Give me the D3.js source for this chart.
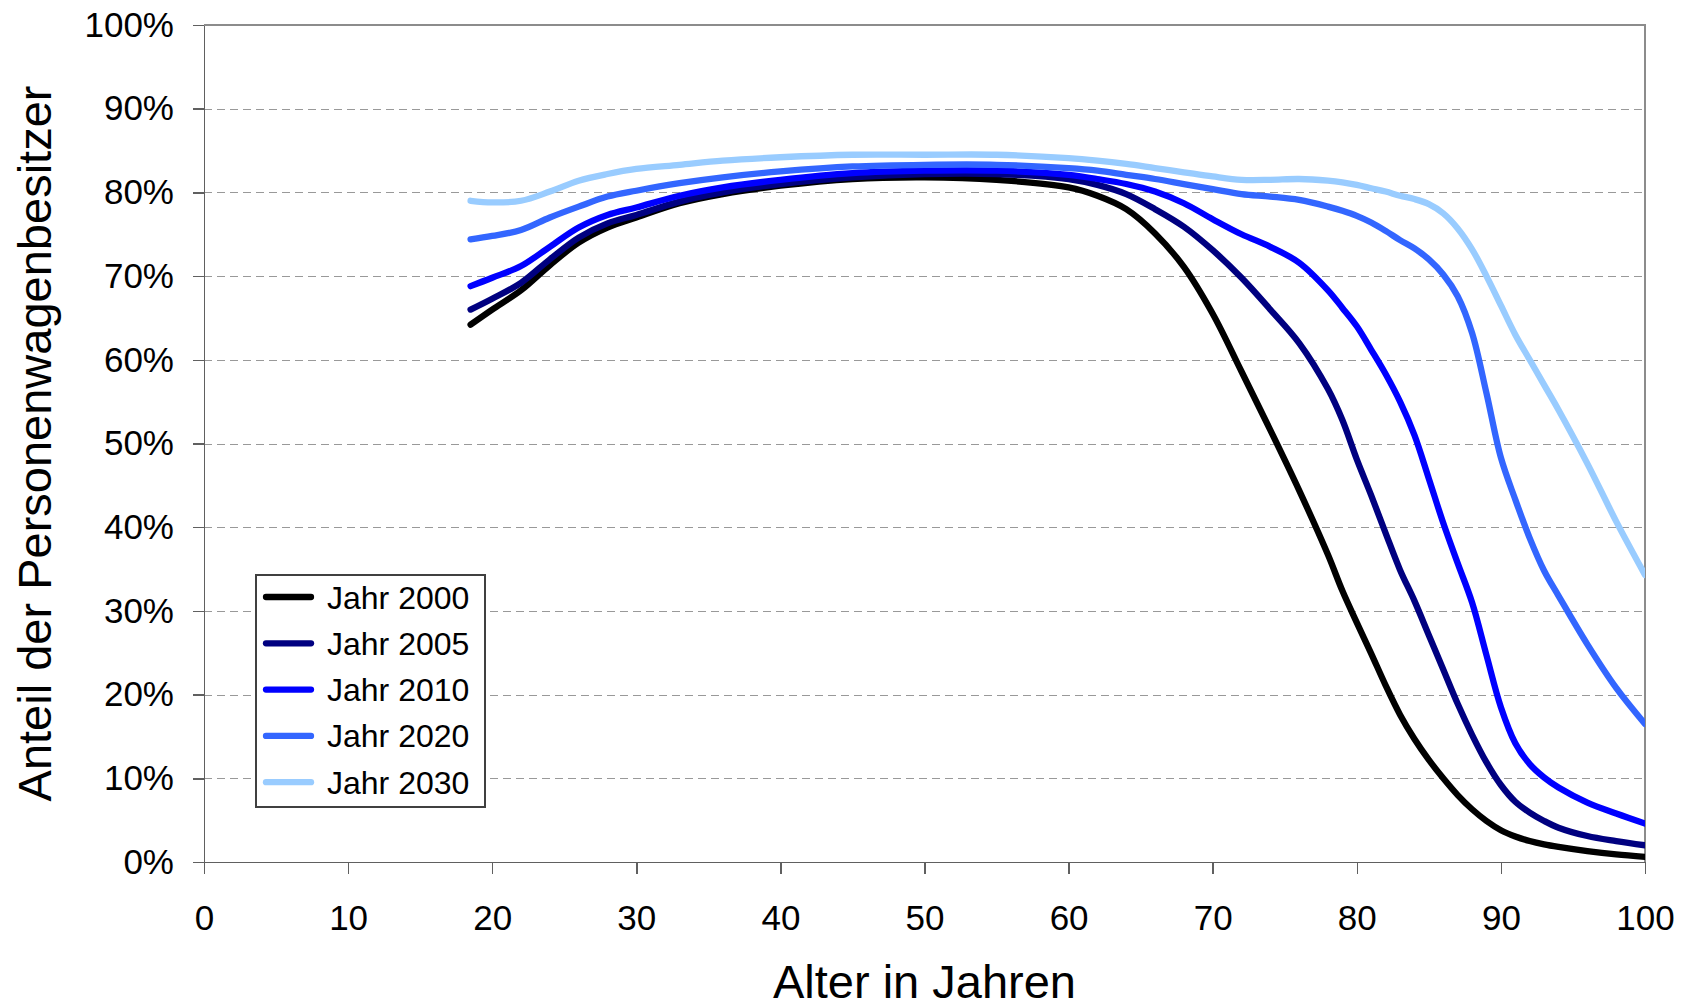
<!DOCTYPE html>
<meta charset="utf-8">
<style>
body {
  margin: 0;
  background-color: #ffffff;
}
text {
  font-family: 'Liberation Sans', Arial, sans-serif;
  fill: #000000;
}
.axis path,
.axis line {
  fill: none;
  stroke: #606060;
  stroke-width: 1.5px;
  shape-rendering: crispEdges;
}
.axis text {
  font-size: 35px;
}
.grid line {
  stroke: #999999;
  stroke-width: 1px;
  stroke-dasharray: 8,5;
  shape-rendering: crispEdges;
}
.border {
  fill: none;
  stroke: #8c8c8c;
  stroke-width: 2px;
  shape-rendering: crispEdges;
}
.series {
  fill: none;
  stroke-width: 6.3px;
  stroke-linejoin: round;
  stroke-linecap: round;
}
.legend rect {
  fill: #ffffff;
  stroke: #404040;
  stroke-width: 1.3px;
  shape-rendering: crispEdges;
}
.legend text {
  font-size: 32px;
}
.title {
  font-size: 47px;
}
</style>
<svg width="1694" height="1008"></svg>
<script src="https://d3js.org/d3.v7.min.js"></script>
<script>
// ages (x values) shared by all series
var ages = [18.5, 20, 22, 24, 26, 28, 30, 33, 36, 40, 45, 50, 55, 60, 62, 64, 66, 68, 70, 72, 74, 76, 78,
            79, 80, 81, 82, 83, 84, 85, 86, 87, 88, 89, 90, 91, 92, 93, 94, 96, 98, 100];

// share of car owners in %, per year
var jahr2000 = [64.2, 66, 68.3, 71.3, 74, 75.8, 77, 78.7, 79.8, 80.8, 81.6, 81.8, 81.5, 80.6, 79.6, 78.0, 75.1, 71.1, 65.5, 58.6, 51.6, 44.4, 36.7,
                32.4, 28.6, 24.9, 21.1, 17.6, 14.7, 12.2, 10, 8, 6.3, 4.9, 3.8, 3.05, 2.5, 2.1, 1.8, 1.3, 0.9, 0.6];
var jahr2005 = [66, 67.3, 69.2, 72, 74.6, 76.3, 77.3, 78.9, 80, 81, 81.8, 82.2, 82.2, 81.6, 80.9, 79.8, 78, 75.9, 73.1, 69.8, 66, 62, 56.5,
                52.8, 48.1, 43.8, 39.3, 34.9, 31.2, 27.1, 23, 18.9, 15.2, 11.9, 9.2, 7.2, 5.9, 4.9, 4.1, 3.1, 2.5, 2.0];
var jahr2010 = [68.8, 69.8, 71.2, 73.5, 75.8, 77.3, 78.2, 79.6, 80.6, 81.5, 82.3, 82.6, 82.6, 82.1, 81.6, 81, 80.1, 78.7, 76.8, 75, 73.5, 71.6, 68.3,
                66.2, 64, 61.2, 58.3, 55, 51, 45.8, 40.5, 35.7, 31, 24.7, 18.5, 14.2, 11.7, 10.1, 8.9, 7.1, 5.8, 4.6];
var jahr2020 = [74.4, 74.8, 75.5, 77, 78.3, 79.5, 80.2, 81.1, 81.8, 82.5, 83.1, 83.3, 83.3, 82.9, 82.6, 82.1, 81.6, 81, 80.4, 79.8, 79.5, 79.1, 78.3,
                77.8, 77.2, 76.4, 75.4, 74.3, 73.3, 72, 70.2, 67.6, 63.2, 56, 48.3, 43.3, 38.7, 34.8, 31.8, 26, 20.8, 16.5];
var jahr2030 = [79, 78.8, 79, 80.1, 81.4, 82.2, 82.8, 83.3, 83.8, 84.2, 84.5, 84.5, 84.5, 84.1, 83.8, 83.4, 82.9, 82.4, 81.9, 81.5, 81.5, 81.6, 81.4,
                81.2, 80.9, 80.5, 80.1, 79.6, 79.2, 78.6, 77.5, 75.7, 73.2, 70, 66.5, 63, 60, 57, 54, 47.6, 40.7, 34.3];

var seriesNames = ["Jahr 2000", "Jahr 2005", "Jahr 2010", "Jahr 2020", "Jahr 2030"];
var seriesValues = [jahr2000, jahr2005, jahr2010, jahr2020, jahr2030];
var seriesColors = ["#000000", "#000080", "#0000ff", "#3366ff", "#99ccff"];

var xTicks = [0, 10, 20, 30, 40, 50, 60, 70, 80, 90, 100];
var yTicks = [0, 10, 20, 30, 40, 50, 60, 70, 80, 90, 100];

var svg = d3.select("svg"),
    margin = {top: 25, right: 49, bottom: 146, left: 204},
    width = +svg.attr("width") - margin.left - margin.right,
    height = +svg.attr("height") - margin.top - margin.bottom;

var x = d3.scaleLinear().domain([0, 100]).range([0, width]);
var y = d3.scaleLinear().domain([0, 100]).range([height, 0]);

var g = svg.append("g")
    .attr("transform", "translate(" + margin.left + "," + margin.top + ")");

// dashed gridlines
g.append("g")
    .attr("class", "grid")
  .selectAll("line")
  .data(yTicks.filter(function(d) { return d > 0 && d < 100; }))
  .enter().append("line")
    .attr("x1", 0)
    .attr("x2", width)
    .attr("y1", function(d) { return Math.round(y(d)) + 0.5; })
    .attr("y2", function(d) { return Math.round(y(d)) + 0.5; });

// top and right frame
g.append("path")
    .attr("class", "border")
    .attr("d", "M0,0H" + width + "V" + height);

var line = d3.line()
    .x(function(d) { return x(d[0]); })
    .y(function(d) { return y(d[1]); })
    .curve(d3.curveCatmullRom.alpha(0.5));

g.append("defs").append("clipPath")
    .attr("id", "clip")
  .append("rect")
    .attr("x", -10)
    .attr("width", width + 10)
    .attr("height", height + 4);

g.append("g")
    .attr("clip-path", "url(#clip)")
  .selectAll(".series")
  .data(seriesValues)
  .enter().append("path")
    .attr("class", "series")
    .attr("stroke", function(d, i) { return seriesColors[i]; })
    .attr("d", function(vals) { return line(ages.map(function(a, j) { return [a, vals[j]]; })); });

g.append("g")
    .attr("class", "x axis")
    .attr("transform", "translate(0," + height + ")")
    .call(d3.axisBottom(x).tickValues(xTicks).tickSizeInner(12).tickSizeOuter(0).tickPadding(30))
    .selectAll("text").attr("dy", "0.71em").attr("y", 43);

g.append("g")
    .attr("class", "y axis")
    .call(d3.axisLeft(y).tickValues(yTicks).tickFormat(function(d) { return d + "%"; }).tickSizeInner(11).tickSizeOuter(0).tickPadding(19));

// axis titles
svg.append("text")
    .attr("class", "title")
    .attr("x", margin.left + width / 2)
    .attr("y", 998)
    .attr("text-anchor", "middle")
    .text("Alter in Jahren");

svg.append("text")
    .attr("class", "title")
    .attr("transform", "translate(51," + (margin.top + height / 2) + ") rotate(-90)")
    .attr("text-anchor", "middle")
    .text("Anteil der Personenwagenbesitzer");

// legend
var legend = svg.append("g")
    .attr("class", "legend")
    .attr("transform", "translate(256,575)");

legend.append("rect")
    .attr("width", 229)
    .attr("height", 232);

var item = legend.selectAll(".item")
    .data(seriesNames)
  .enter().append("g")
    .attr("class", "item")
    .attr("transform", function(d, i) { return "translate(0," + (22 + i * 46.3) + ")"; });

item.append("line")
    .attr("x1", 10)
    .attr("x2", 55)
    .attr("stroke", function(d, i) { return seriesColors[i]; })
    .attr("stroke-width", 6.3)
    .attr("stroke-linecap", "round");

item.append("text")
    .attr("x", 71)
    .attr("dy", "0.36em")
    .text(function(d) { return d; });
</script>
